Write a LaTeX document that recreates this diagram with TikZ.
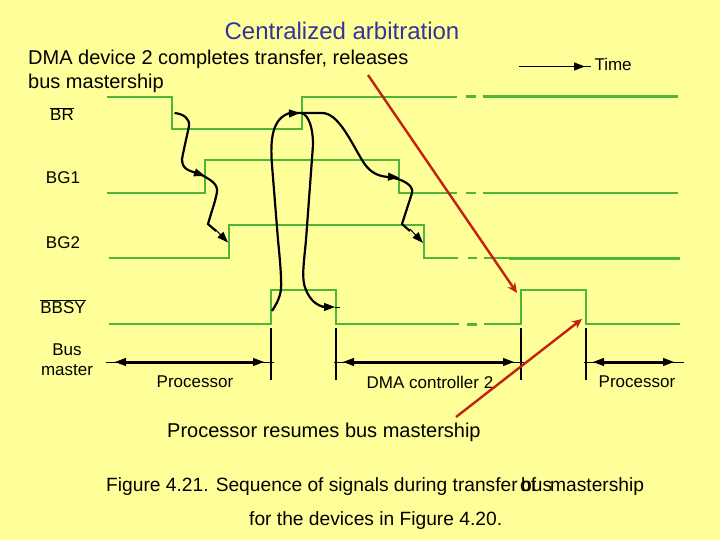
\documentclass[tikz,border=0pt]{standalone}
\usepackage{fontspec}
\setmainfont{Liberation Sans}
\usepackage{xcolor}
\usetikzlibrary{arrows.meta,calc}
\definecolor{slidebg}{HTML}{FFFF99}
\definecolor{sigline}{HTML}{4DB53A}
\definecolor{notered}{HTML}{C4200E}
\definecolor{titleblue}{HTML}{333399}
\tikzset{
	signal/.style={sigline, line width=2pt, line join=miter},
	signalthick/.style={sigline, line width=3pt},
	causeline/.style={black, line width=2.2pt},
	midtip/.style={black, line width=1pt, -{Stealth[length=11pt, width=8pt, inset=0pt]}},
	spanline/.style={black, line width=3pt},
	thinline/.style={black, line width=1pt},
	tickline/.style={black, line width=2.2pt},
	redarrow/.style={notered, line width=2.4pt, -{Stealth[length=10pt, width=9pt]}},
	sigtext/.style={font=\fontsize{17}{20}\selectfont},
	bigtext/.style={font=\fontsize{20}{24}\selectfont, align=left},
	figtext/.style={font=\fontsize{19.2}{24}\selectfont, anchor=base west, inner sep=0pt},
}
\begin{document}
\begin{tikzpicture}[x=1pt, y=-1pt]

	\fill[slidebg] (0,0) rectangle (720,540);
	\useasboundingbox (0,0) rectangle (720,540);

	% Heights of the four signals
	\def\brhi{97} \def\brlo{129}
	\def\bgahi{160} \def\bgalo{193}
	\def\bgbhi{225} \def\bgblo{258}
	\def\bbhi{290} \def\bblo{324}
	\def\masty{362}

	% Signals
	\draw[signal] (107,\brhi) -| (172,\brlo) -| (302,\brhi) -- (457,\brhi);
	\draw[signal] (107,\bgalo) -| (205,\bgahi) -| (399,\bgalo) -- (457,\bgalo);
	\draw[signal] (109,\bgblo) -| (229,\bgbhi) -| (424,\bgblo) -- (458,\bgblo);
	\draw[signal] (109,\bblo) -| (271,\bbhi) -| (336,\bblo) -- (459,\bblo);
	\draw[signal] (484,\bblo) -| (521,\bbhi) -| (586,\bblo) -- (680,\bblo);

	% Broken part of each line
	\draw[signalthick] (466,\brhi) -- (476,\brhi) (483,\brhi) -- (678,\brhi);
	\draw[signal] (466,\bgalo) -- (476,\bgalo) (483,\bgalo) -- (678,\bgalo);
	\draw[signal] (468,\bgblo) -- (477,\bgblo) (484,\bgblo) -- (509,\bgblo);
	\draw[signalthick] (509,\bgblo) -- (680,\bgblo);
	\draw[signalthick] (467,\bblo) -- (477,\bblo);

	% Cause and effect curves
	\draw[causeline] (174.5,113) .. controls (184,114) and (190,119) .. (189,126)
		.. controls (187,136) and (184,148) .. (182,159)
		.. controls (182,170) and (190,171) .. (200,174)
		.. controls (211,180) and (218,184) .. (217,192)
		.. controls (215,203) and (211,213) .. (208,224) -- (216,231);
	\draw[midtip] (192,171.5) -- (205,176);
	\draw[midtip] (215,229) -- (228,242.5);

	\draw[causeline] (272,311) .. controls (279,300) and (282,293) .. (281,280)
		.. controls (281,270) and (279,250) .. (278,240)
		-- (272,165) .. controls (270,140) and (272,118) .. (290,113) -- (302,113);
	\draw[midtip] (287,113.5) -- (300,113);

	\draw[causeline] (302,113) -- (322,113) .. controls (338,113) and (350,140) .. (362,160)
		.. controls (368,170) and (375,176) .. (388,177)
		.. controls (404,179) and (414,186) .. (412,193)
		-- (402,224) -- (410,231);
	\draw[midtip] (386,176.5) -- (399,177.5);
	\draw[midtip] (410,229) -- (423,243);

	\draw[causeline] (302,113) .. controls (309,116) and (313,128) .. (313,145)
		-- (306,240) .. controls (304,262) and (301,280) .. (306,290)
		.. controls (310,300) and (317,306) .. (325,307);
	\draw[midtip] (322,307) -- (335,307);
	\draw[thinline] (335,307) -- (340,307);

	% Bus master spans
	\foreach \xtick in {271,336,521,586}
		\draw[tickline] (\xtick,328) -- (\xtick,380);
	\foreach \xa/\xb in {108/271, 336/521, 586/681} {
		\draw[thinline] (\xa-2,\masty) -- (\xb+3,\masty);
		\draw[spanline] (\xa+14,\masty) -- (\xb-14,\masty);
		\draw[midtip] (\xa+19,\masty) -- (\xa+7,\masty);
		\draw[midtip] (\xb-19,\masty) -- (\xb-7,\masty);
	}

	% Time arrow
	\draw[thinline, line width=1.4pt] (519,66.5) -- (591,66.5);
	\draw[midtip] (572,66.5) -- (585,66.5);
	\node[sigtext, anchor=west] (timelabel) at (591,64) {Time};

	% Signal names
	\node[sigtext] (brlabel) at (62,114) {$\overline{\mbox{BR}}$};
	\node[sigtext] (bgalabel) at (63,178) {BG1};
	\node[sigtext] (bgblabel) at (63,243) {BG2};
	\node[sigtext] (bbsylabel) at (63,307) {$\overline{\mbox{BBSY}}$};
	\node[sigtext, align=center] (buslabel) at (67,360) {Bus\\master};

	% Owner of the bus
	\node[sigtext] (procalabel) at (195,382) {Processor};
	\node[sigtext] (dmalabel) at (430,382) {DMA controller 2};
	\node[sigtext] (procblabel) at (637,382) {Processor};

	% Slide texts
	\node[titleblue, font=\fontsize{24}{28}\selectfont] (title) at (342,31) {Centralized arbitration};
	\node[bigtext, anchor=north west, inner sep=0pt] (headtext) at (28,50) {DMA device 2 completes transfer, releases\\bus mastership};
	\node[bigtext, anchor=west, inner sep=0pt] (resume) at (167,432.5) {Processor resumes bus mastership};
	\node[figtext] (figa) at (106,491) {Figure 4.21.  Sequence of signals during transfer};
	\node[figtext] (figof) at (520,491) {of};
	\node[figtext] (figbus) at (521,491) {bus};
	\node[figtext] (figb) at (550,491) {mastership};
	\node[figtext] (figc) at (249,525) {for the devices in Figure 4.20.};

	% Red arrows
	\coordinate (reda) at (368,75);
	\coordinate (redb) at (517,293);
	\coordinate (redc) at (456,417);
	\coordinate (redd) at (582,319);
	\draw[redarrow] (reda) -- (redb);
	\draw[redarrow] (redc) -- (redd);

\end{tikzpicture}
\end{document}
